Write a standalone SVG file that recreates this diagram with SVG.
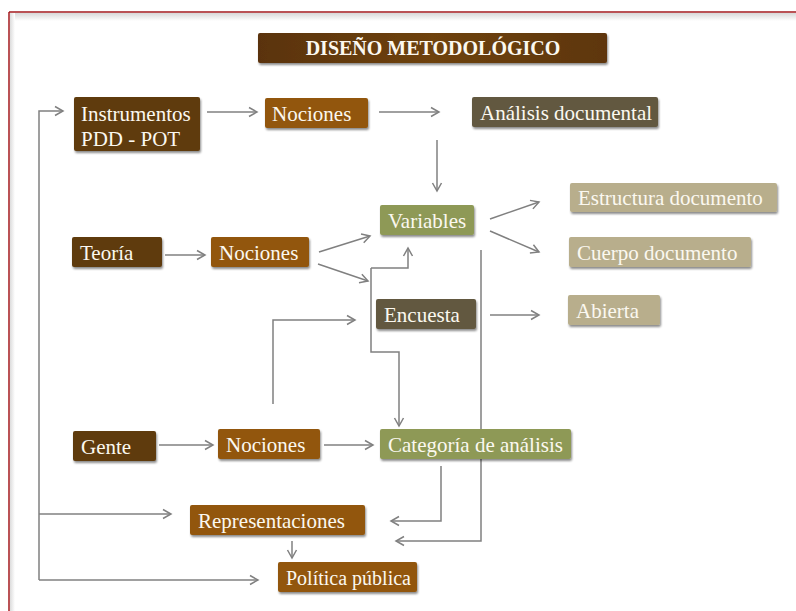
<svg xmlns="http://www.w3.org/2000/svg" width="796" height="611" viewBox="0 0 796 611">
<defs>
<style>
.lbl{font-family:"Liberation Serif","DejaVu Serif",serif;font-size:21px;fill:#fbf8f0}
.sm{font-size:20px}
.ttl{font-family:"Liberation Serif","DejaVu Serif",serif;font-size:20px;font-weight:bold;fill:#fbf8f0}
.c{fill:none;stroke:#808080;stroke-width:1.5}
.dk{fill:#5e3a0c}
.or{fill:#92570f}
.ol{fill:#8e9957}
.gb{fill:#625841}
.tn{fill:#b8ae8c}
.sh{filter:url(#ds)}
</style>
<filter id="ds" x="-10%" y="-20%" width="125%" height="160%">
<feDropShadow dx="1" dy="2" stdDeviation="1.2" flood-color="#000" flood-opacity="0.45"/>
</filter>
<linearGradient id="tg" x1="0" y1="0" x2="1" y2="0">
<stop offset="0" stop-color="#5a330a"/>
<stop offset="0.5" stop-color="#6e420f"/>
<stop offset="1" stop-color="#5e360b"/>
</linearGradient>
<linearGradient id="topsh" x1="0" y1="0" x2="0" y2="1">
<stop offset="0" stop-color="#d8d8d8"/>
<stop offset="1" stop-color="#ffffff"/>
</linearGradient>
<linearGradient id="leftsh" x1="0" y1="0" x2="1" y2="0">
<stop offset="0" stop-color="#dcdcdc"/>
<stop offset="1" stop-color="#ffffff"/>
</linearGradient>
<marker id="ar" markerUnits="userSpaceOnUse" markerWidth="12" markerHeight="12" refX="10" refY="6" orient="auto">
<path d="M2,1.5 L10,6 L2,10.5" fill="none" stroke="#808080" stroke-width="1.5"/>
</marker>
</defs>
<rect width="796" height="611" fill="#ffffff"/>
<g id="frame">
<rect x="10" y="13" width="786" height="8" fill="url(#topsh)"/>
<rect x="10" y="13" width="5" height="598" fill="url(#leftsh)"/>
<line x1="9" y1="12" x2="796" y2="12" stroke="#a3191d" stroke-width="1.5"/>
<line x1="9" y1="12" x2="9" y2="611" stroke="#a3191d" stroke-width="1.5"/>
</g>
<g id="connectors">
<path class="c" d="M39,580 L39,111 L63,111" marker-end="url(#ar)"/>
<path class="c" d="M39,514 L171,514" marker-end="url(#ar)"/>
<path class="c" d="M39,580 L258,580" marker-end="url(#ar)"/>
<path class="c" d="M207,112 L257,112" marker-end="url(#ar)"/>
<path class="c" d="M379,112 L439,112" marker-end="url(#ar)"/>
<path class="c" d="M437,140 L437,191" marker-end="url(#ar)"/>
<path class="c" d="M165,255 L205,255" marker-end="url(#ar)"/>
<path class="c" d="M319,252 L370,236" marker-end="url(#ar)"/>
<path class="c" d="M318,264 L368,281" marker-end="url(#ar)"/>
<path class="c" d="M490,219 L539,202" marker-end="url(#ar)"/>
<path class="c" d="M490,231 L539,252" marker-end="url(#ar)"/>
<path class="c" d="M490,315 L539,315" marker-end="url(#ar)"/>
<path class="c" d="M371,268 L408,268 L408,248" marker-end="url(#ar)"/>
<path class="c" d="M371,268 L371,352 L399,352 L399,426" marker-end="url(#ar)"/>
<path class="c" d="M273,404 L273,320 L355,320" marker-end="url(#ar)"/>
<path class="c" d="M159,445 L213,445" marker-end="url(#ar)"/>
<path class="c" d="M324,445 L373,445" marker-end="url(#ar)"/>
<path class="c" d="M441,466 L441,521 L391,521" marker-end="url(#ar)"/>
<path class="c" d="M481,250 L481,541 L396,541" marker-end="url(#ar)"/>
<path class="c" d="M292,541 L292,558" marker-end="url(#ar)"/>
</g>
<g id="title"><rect class="sh" x="258" y="33" width="349" height="30" rx="2" fill="url(#tg)"/><text class="ttl" x="433" y="55" text-anchor="middle">DISEÑO METODOLÓGICO</text></g>
<g id="instrumentos"><rect class="dk sh" x="74" y="97" width="126" height="54" rx="2"/><text class="lbl" x="81" y="121">Instrumentos</text><text class="lbl" x="81" y="146">PDD - POT</text></g>
<g id="nociones1"><rect class="or sh" x="265" y="98" width="103" height="30" rx="2"/><text class="lbl" x="272" y="121">Nociones</text></g>
<g id="analisis"><rect class="gb sh" x="472" y="97" width="186" height="30" rx="2"/><text class="lbl" x="480" y="120">Análisis documental</text></g>
<g id="variables"><rect class="ol sh" x="380" y="205" width="94" height="30" rx="2"/><text class="lbl" x="388" y="228">Variables</text></g>
<g id="estructura"><rect class="tn sh" x="570" y="183" width="207" height="29" rx="2"/><text class="lbl" x="578" y="205">Estructura documento</text></g>
<g id="cuerpo"><rect class="tn sh" x="569" y="237" width="182" height="30" rx="2"/><text class="lbl" x="577" y="260">Cuerpo documento</text></g>
<g id="teoria"><rect class="dk sh" x="72" y="237" width="90" height="30" rx="2"/><text class="lbl" x="80" y="260">Teoría</text></g>
<g id="nociones2"><rect class="or sh" x="211" y="237" width="98" height="30" rx="2"/><text class="lbl" x="219" y="260">Nociones</text></g>
<g id="encuesta"><rect class="gb sh" x="376" y="299" width="100" height="30" rx="2"/><text class="lbl" x="384" y="322">Encuesta</text></g>
<g id="abierta"><rect class="tn sh" x="568" y="295" width="92" height="30" rx="2"/><text class="lbl" x="576" y="318">Abierta</text></g>
<g id="gente"><rect class="dk sh" x="73" y="431" width="83" height="30" rx="2"/><text class="lbl" x="81" y="454">Gente</text></g>
<g id="nociones3"><rect class="or sh" x="218" y="429" width="102" height="30" rx="2"/><text class="lbl" x="226" y="452">Nociones</text></g>
<g id="categoria"><rect class="ol sh" x="380" y="429" width="191" height="30" rx="2"/><text class="lbl" x="388" y="452">Categoría de análisis</text></g>
<g id="representaciones"><rect class="or sh" x="190" y="505" width="175" height="30" rx="2"/><text class="lbl" x="198" y="528">Representaciones</text></g>
<g id="politica"><rect class="or sh" x="278" y="562" width="139" height="30" rx="2"/><text class="lbl sm" x="286" y="585">Política pública</text></g>
</svg>
